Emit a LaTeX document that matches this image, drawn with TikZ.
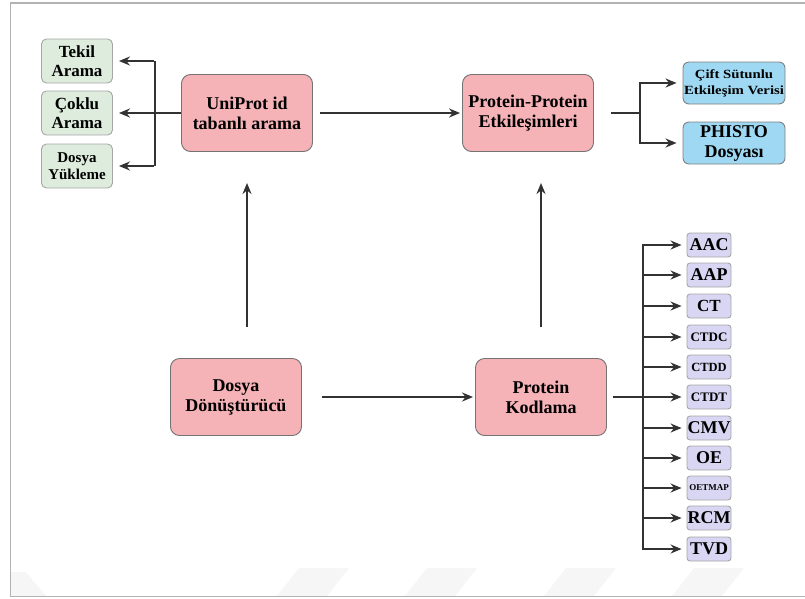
\documentclass[tikz,border=0pt]{standalone}
\usepackage{fontspec}
\setmainfont{Liberation Serif}
\usetikzlibrary{arrows.meta}
\definecolor{pinkf}{RGB}{245,178,183}
\definecolor{greenf}{RGB}{221,236,221}
\definecolor{bluef}{RGB}{158,216,242}
\definecolor{lavf}{RGB}{216,214,242}
\definecolor{linec}{RGB}{50,50,50}
\definecolor{wm}{RGB}{246,246,246}
\begin{document}
\begin{tikzpicture}[x=1pt,y=-1pt,
  box/.style={draw=black!55, line width=0.9pt, inner sep=0pt, align=center, font=\bfseries},
  mainbox/.style={box, fill=pinkf, rounded corners=9pt, minimum width=131pt, minimum height=77pt, font=\bfseries\fontsize{18}{20}\selectfont},
  greenbox/.style={box, draw=black!35, fill=greenf, rounded corners=5pt, minimum width=71pt, minimum height=44pt},
  bluebox/.style={box, draw=black!50, fill=bluef, rounded corners=6pt, minimum width=102pt, minimum height=42pt},
  lavbox/.style={box, draw=black!35, fill=lavf, rounded corners=3pt, minimum width=44pt, minimum height=24pt},
  ln/.style={draw=linec, line width=2.3pt},
  arr/.style={ln, -{Stealth[length=11pt,width=9pt]}}]
\useasboundingbox (0,0) rectangle (805,598);
% watermark
\fill[wm] (10,572) -- (26,572) -- (46,596) -- (10,596) -- cycle;
\foreach \a in {277,405,544,672}{
  \fill[wm] (\a+22,568) -- (\a+72,568) -- (\a+50,596) -- (\a,596) -- cycle;}
% frame
\draw[black!30, line width=1.5pt] (805,3) -- (10.5,3) -- (10.5,596.5) -- (805,596.5);

% main nodes
\node[mainbox] (uni) at (247,113) {UniProt id\\tabanlı arama};
\node[mainbox] (ppi) at (528,113) {Protein-Protein\\Etkileşimleri};
\node[mainbox] (dd) at (236,397) {Dosya\\Dönüştürücü};
\node[mainbox] (pk) at (541,397) {Protein\\Kodlama};

% green nodes
\node[greenbox, font=\bfseries\fontsize{17}{19}\selectfont] (tekil) at (77,61) {Tekil\\Arama};
\node[greenbox, font=\bfseries\fontsize{17}{19}\selectfont] (coklu) at (77,113) {Çoklu\\Arama};
\node[greenbox, font=\bfseries\fontsize{15}{17}\selectfont] (dosya) at (77,166) {Dosya\\Yükleme};

% blue nodes
\node[bluebox] (cift) at (734,83) {\scalebox{1.18}[1]{\fontsize{12.5}{17}\selectfont\bfseries\begin{tabular}{@{}c@{}}Çift Sütunlu\\[-1pt]Etkileşim Verisi\end{tabular}}};
\node[bluebox, font=\bfseries\fontsize{18}{20}\selectfont] (phisto) at (734,143) {PHISTO\\Dosyası};

% lavender nodes
\node[lavbox, font=\bfseries\fontsize{18}{18}\selectfont] (aac) at (709,245) {AAC};
\node[lavbox, font=\bfseries\fontsize{18}{18}\selectfont] (aap) at (709,275) {AAP};
\node[lavbox, font=\bfseries\fontsize{17}{17}\selectfont] (ct) at (709,306) {CT};
\node[lavbox, font=\bfseries\fontsize{13}{13}\selectfont] (ctdc) at (709,337) {CTDC};
\node[lavbox, font=\bfseries\fontsize{12.5}{13}\selectfont] (ctdd) at (709,367) {CTDD};
\node[lavbox, font=\bfseries\fontsize{13}{13}\selectfont] (ctdt) at (709,397) {CTDT};
\node[lavbox, font=\bfseries\fontsize{18}{18}\selectfont] (cmv) at (709,428) {CMV};
\node[lavbox, font=\bfseries\fontsize{18}{18}\selectfont] (oe) at (709,458) {OE};
\node[lavbox, font=\bfseries\fontsize{9}{9}\selectfont] (oetmap) at (709,488) {OETMAP};
\node[lavbox, font=\bfseries\fontsize{18}{18}\selectfont] (rcm) at (709,518) {RCM};
\node[lavbox, font=\bfseries\fontsize{18}{18}\selectfont] (tvd) at (709,549) {TVD};

% left bracket
\coordinate (lbt) at (155,61);
\coordinate (lbb) at (155,166);
\draw[ln] (lbt) -- (lbb);
\draw[arr] (uni.west) -- ([xshift=6pt]coklu.east);
\draw[arr] ([xshift=-1.15pt]lbt) -- ([xshift=6pt]tekil.east);
\draw[arr] ([xshift=-1.15pt]lbb) -- ([xshift=6pt]dosya.east);

% main arrows
\draw[arr] ([xshift=7pt]uni.east) -- ([xshift=-2pt]ppi.west);
\draw[arr] ([xshift=20pt]dd.east) -- ([xshift=-2pt]pk.west);
\coordinate (ua) at (247,327);
\coordinate (ub) at (247,183);
\draw[arr] (ua) -- (ub);
\coordinate (pa) at (541,327);
\coordinate (pb) at (541,183);
\draw[arr] (pa) -- (pb);

% right bracket (PPI)
\coordinate (rj) at (640,113);
\coordinate (rt) at (640,83);
\coordinate (rb) at (640,143);
\draw[ln] ([xshift=17pt]ppi.east) -- (rj);
\draw[ln] (rt) -- (rb);
\draw[arr] ([xshift=-1.15pt]rt) -- ([xshift=-6pt]cift.west);
\draw[arr] ([xshift=-1.15pt]rb) -- ([xshift=-6pt]phisto.west);

% encoding bracket
\coordinate (kt) at (643,245);
\coordinate (kb) at (643,549);
\coordinate (kj) at (643,397);
\draw[ln] (kt) -- (kb);
\draw[ln] ([xshift=6pt]pk.east) -- (kj);
\foreach \n in {aac,aap,ct,ctdc,ctdd,ctdt,cmv,oe,oetmap,rcm,tvd}{
  \draw[arr] ([xshift=-1.15pt]643,0 |- \n.west) -- ([xshift=-5pt]\n.west);
}
\end{tikzpicture}
\end{document}
